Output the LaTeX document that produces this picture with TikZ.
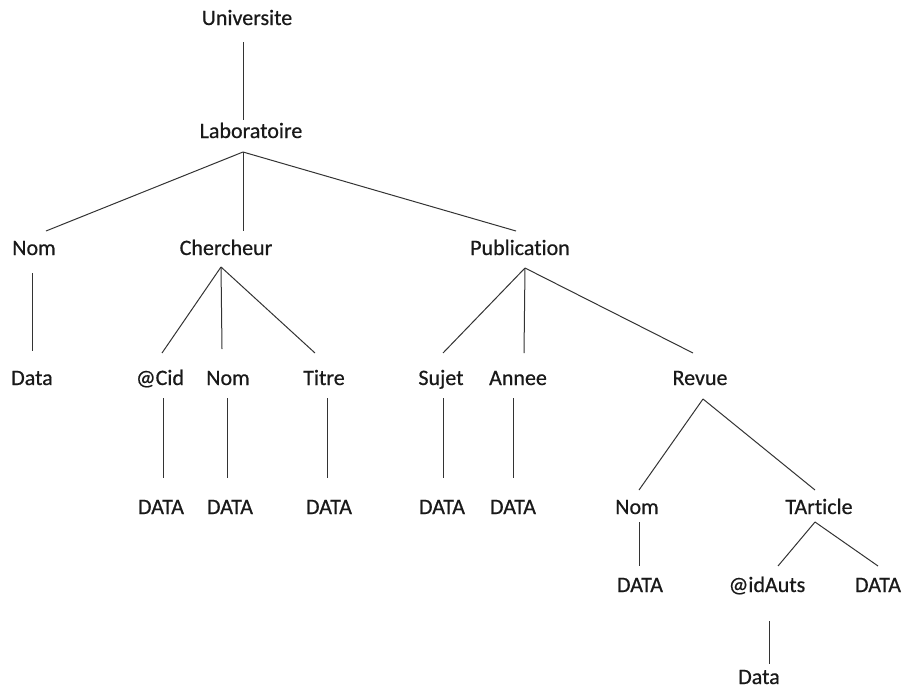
\documentclass[tikz,border=0pt]{standalone}
\usepackage{fontspec}
\setmainfont{Carlito}[Ligatures={NoCommon,NoRequired,NoContextual},FakeBold=0.6]
\begin{document}
\begin{tikzpicture}[x=1pt,y=-1pt,
  lbl/.style={inner sep=0pt,text height=14pt,text depth=0pt,anchor=center,
    font=\fontsize{22}{25}\selectfont,text=black!90},
  edge/.style={draw=black!80,line width=1pt}]
\useasboundingbox (0,0) rectangle (904,688);

% element names and leaves
\node[lbl] (uni)    at (247,18)  {Universite};
\node[lbl] (lab)    at (251,131) {Laboratoire};
\node[lbl] (nom1)   at (34,248)  {Nom};
\node[lbl] (chr)    at (226,248) {Chercheur};
\node[lbl] (pub)    at (520,248) {Publication};
\node[lbl] (data1)  at (32,378)  {Data};
\node[lbl] (cid)    at (160,378) {@Cid};
\node[lbl] (nom2)   at (228,378) {Nom};
\node[lbl] (titre)  at (324,378) {Titre};
\node[lbl] (sujet)  at (441,378) {Sujet};
\node[lbl] (annee)  at (518,378) {Annee};
\node[lbl] (revue)  at (700,378) {Revue};
\node[lbl] (cidD)   at (161,507) {DATA};
\node[lbl] (nomD)   at (230,507) {DATA};
\node[lbl] (titreD) at (329,507) {DATA};
\node[lbl] (sujetD) at (442,507) {DATA};
\node[lbl] (anneeD) at (513,507) {DATA};
\node[lbl] (nom3)   at (637,507) {Nom};
\node[lbl] (tart)   at (819,507) {TArticle};
\node[lbl] (nom3D)  at (640,585) {DATA};
\node[lbl] (idauts) at (767,585) {@idAuts};
\node[lbl] (tartD)  at (878,585) {DATA};
\node[lbl] (data2)  at (759,677) {Data};

% Universite -> Laboratoire
\draw[edge] ([shift={(-4,24)}]uni.center) -- ([shift={(-8,-11)}]lab.center);
% Laboratoire -> children
\draw[edge] ([shift={(-8,21)}]lab.center) -- ([shift={(12,-17)}]nom1.center);
\draw[edge] ([shift={(-8,21)}]lab.center) -- ([shift={(17,-17)}]chr.center);
\draw[edge] ([shift={(-8,21)}]lab.center) -- ([shift={(-4,-17)}]pub.center);
% Nom -> Data
\draw[edge] ([shift={(-2,25)}]nom1.center) -- ([shift={(0,-27)}]data1.center);
% Chercheur -> children
\draw[edge] ([shift={(-5,19)}]chr.center) -- ([shift={(2,-25)}]cid.center);
\draw[edge] ([shift={(-5,19)}]chr.center) -- ([shift={(-6,-29)}]nom2.center);
\draw[edge] ([shift={(-5,19)}]chr.center) -- ([shift={(-9,-25)}]titre.center);
% Publication -> children
\draw[edge] ([shift={(5,20)}]pub.center) -- ([shift={(2,-25)}]sujet.center);
\draw[edge] ([shift={(5,20)}]pub.center) -- ([shift={(6,-25)}]annee.center);
\draw[edge] ([shift={(5,20)}]pub.center) -- ([shift={(-7,-25)}]revue.center);
% attribute and leaf values
\draw[edge] ([shift={(3,20)}]cid.center)   -- ([shift={(2,-29)}]cidD.center);
\draw[edge] ([shift={(-1,20)}]nom2.center) -- ([shift={(-3,-29)}]nomD.center);
\draw[edge] ([shift={(3,20)}]titre.center) -- ([shift={(-2,-29)}]titreD.center);
\draw[edge] ([shift={(2,20)}]sujet.center) -- ([shift={(1,-29)}]sujetD.center);
\draw[edge] ([shift={(-5,20)}]annee.center) -- ([shift={(0,-29)}]anneeD.center);
% Revue -> children
\draw[edge] ([shift={(3,21)}]revue.center) -- ([shift={(2,-17)}]nom3.center);
\draw[edge] ([shift={(3,21)}]revue.center) -- ([shift={(-4,-17)}]tart.center);
\draw[edge] ([shift={(2,15)}]nom3.center)  -- ([shift={(-1,-19)}]nom3D.center);
% TArticle -> children
\draw[edge] ([shift={(-4,15)}]tart.center) -- ([shift={(11,-19)}]idauts.center);
\draw[edge] ([shift={(-4,15)}]tart.center) -- ([shift={(0,-19)}]tartD.center);
\draw[edge] ([shift={(2,36)}]idauts.center) -- ([shift={(10,-13)}]data2.center);
\end{tikzpicture}
\end{document}
